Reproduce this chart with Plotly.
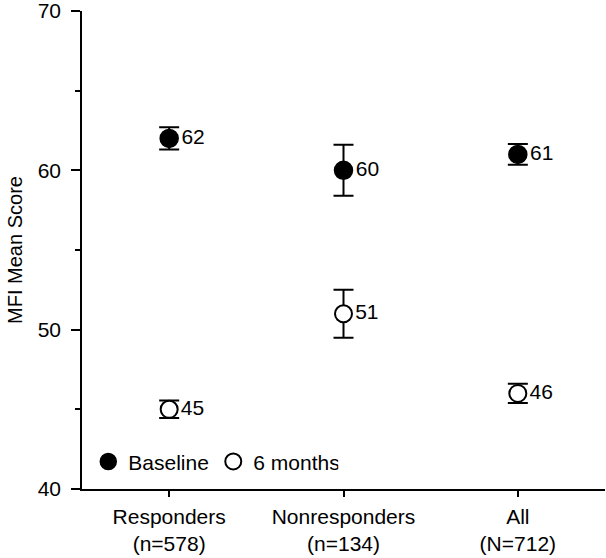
import plotly.graph_objects as go

categories = ["Responders<br>(n=578)", "Nonresponders<br>(n=134)", "All<br>(N=712)"]
baseline = [62, 60, 61]
baseline_err = [0.7, 1.6, 0.65]
six_months = [45, 51, 46]
six_months_err = [0.55, 1.5, 0.6]

xpos = list(range(len(categories)))
FONT = "Liberation Sans, Arial, Helvetica, sans-serif"
FS = 21

fig = go.Figure()
fig.add_trace(go.Scatter(
    x=xpos, y=baseline, name="Baseline", mode="markers+text",
    marker=dict(symbol="circle", size=18, color="black", line=dict(color="black", width=1.5)),
    error_y=dict(type="data", array=baseline_err, visible=True, color="black", thickness=2, width=10),
    text=[str(v) for v in baseline], textposition="middle right",
    textfont=dict(family=FONT, size=FS, color="black"),
))
fig.add_trace(go.Scatter(
    x=xpos, y=six_months, name="6 months", mode="markers+text",
    marker=dict(symbol="circle", size=17, color="white", line=dict(color="black", width=2)),
    error_y=dict(type="data", array=six_months_err, visible=True, color="black", thickness=2, width=10),
    text=[str(v) for v in six_months], textposition="middle right",
    textfont=dict(family=FONT, size=FS, color="black"),
))

fig.update_layout(
    width=606, height=558,
    margin=dict(l=82, r=1, t=11, b=69, autoexpand=False),
    paper_bgcolor="white", plot_bgcolor="white",
    font=dict(family=FONT, size=FS, color="black"),
    showlegend=True,
    hovermode=False,
    legend=dict(orientation="h", x=0.012, y=0.014, xanchor="left", yanchor="bottom",
                bgcolor="rgba(0,0,0,0)", font=dict(size=FS), itemwidth=30,
                entrywidth=80, entrywidthmode="pixels"),
    xaxis=dict(
        range=[-0.5, 2.5], tickmode="array", tickvals=xpos, ticktext=categories,
        showline=True, linecolor="black", linewidth=1.5, ticks="outside",
        ticklen=6, tickwidth=1.5, tickcolor="black", showgrid=False, zeroline=False,
        automargin=False, ticklabelstandoff=2,
    ),
    yaxis=dict(
        range=[40, 70], dtick=10, tick0=40,
        showline=True, linecolor="black", linewidth=1.5, ticks="outside",
        ticklen=9, tickwidth=1.5, tickcolor="black", showgrid=False, zeroline=False,
        ticklabelstandoff=6, automargin=False, ticklabeloverflow="allow",
        minor=dict(dtick=5, tick0=40, ticks="outside", ticklen=5, tickwidth=1.5, tickcolor="black", showgrid=False),
        title=dict(text="MFI Mean Score", font=dict(size=20), standoff=10),
    ),
)

fig.write_html("out.html", config={"displayModeBar": False},
               post_script="document.body.style.margin='0';")
